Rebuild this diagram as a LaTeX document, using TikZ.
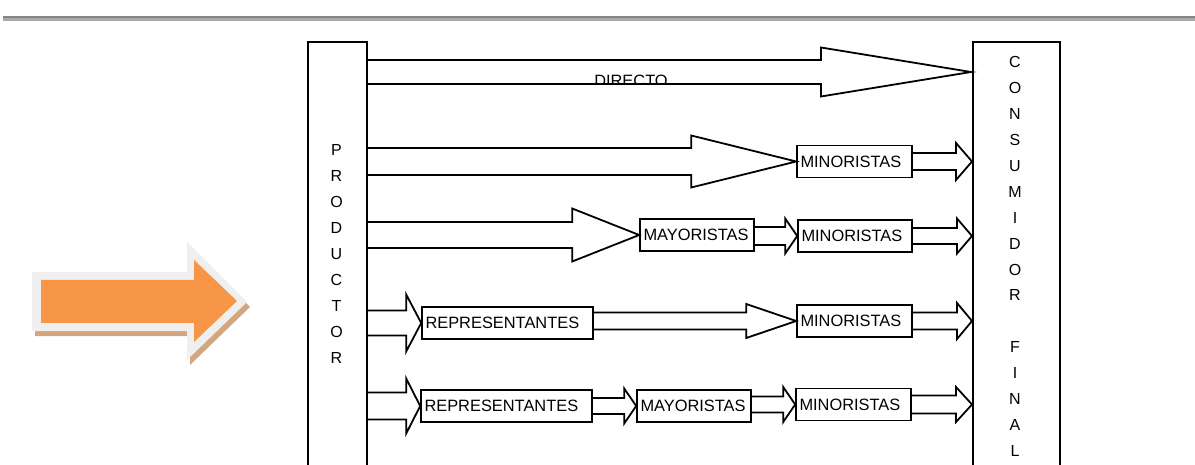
\documentclass[tikz,border=0pt]{standalone}
\usepackage{fontspec}
\setmainfont{Liberation Sans}
\usetikzlibrary{calc}
\definecolor{bardark}{HTML}{868686}
\definecolor{barlight}{HTML}{ABA8A8}
\definecolor{orangefill}{HTML}{F79646}
\definecolor{glowgray}{HTML}{EFEFEF}
\definecolor{shadowtan}{HTML}{D4A680}
\tikzset{
  blk/.style={draw=black, line width=1.8pt, line join=miter},
  frame/.style={draw=black, line width=1.8pt, inner sep=0pt},
  lbl/.style={draw=black, line width=1.6pt, minimum height=32pt, inner ysep=0pt,
    inner xsep=3.5pt, text width=#1, align=left, font=\fontsize{16.4}{19}\selectfont},
  vtxt/.style={inner sep=0pt, align=center, anchor=north},
}
\newcommand\barrow[5]{% source, tip, shaft half, head half, head length
  \draw[blk] let \p1=(#1), \p2=(#2) in
    (\x1,\y2+#3) -- (\x2-#5,\y2+#3) -- (\x2-#5,\y2+#4) -- (\p2)
    -- (\x2-#5,\y2-#4) -- (\x2-#5,\y2-#3) -- (\x1,\y2-#3);}
\begin{document}
\begin{tikzpicture}[x=1pt,y=-1pt]
\useasboundingbox (0,0) rectangle (1195,465);
% top bar
\fill[bardark] (3,16) rectangle (1195,18.2);
\fill[barlight] (3,18.2) rectangle (1195,20.6);
% orange arrow
\fill[shadowtan] (35,277) -- (190,277) -- (190,247) -- (250,307) -- (190,365) -- (190,336) -- (35,336) -- cycle;
\fill[glowgray] (32,272) -- (187,272) -- (187,242) -- (247,302) -- (187,360) -- (187,331) -- (32,331) -- cycle;
\fill[orangefill] (41,280) -- (194,280) -- (194,260) -- (237,301) -- (194,342) -- (194,323) -- (41,323) -- cycle;
% producer and consumer
\node[frame, minimum width=59pt, minimum height=460pt, anchor=north west] (prod) at (307,41) {};
\node[frame, minimum width=87pt, minimum height=460pt, anchor=north west] (cons) at (972,41) {};
\node[vtxt, font=\fontsize{16}{26}\selectfont] (prodtxt) at (336.5,144.5) {P\\R\\O\\D\\U\\C\\T\\O\\R};
\node[vtxt, font=\fontsize{16}{25.9}\selectfont] (constxt) at (1015,56.5) {C\\O\\N\\S\\U\\M\\I\\D\\O\\R\\[25.9pt]F\\I\\N\\A\\L};
% boxes
\node[lbl=108pt] (min2) at (854.5,161.5) {MINORISTAS};
\node[lbl=107pt] (may3) at (697,235) {MAYORISTAS};
\node[lbl=107pt] (min3) at (855,236) {MINORISTAS};
\node[lbl=164pt] (rep4) at (507.5,323) {REPRESENTANTES};
\node[lbl=108pt] (min4) at (854.5,321) {MINORISTAS};
\node[lbl=164pt] (rep5) at (506.5,406) {REPRESENTANTES};
\node[lbl=107pt] (may5) at (694,406) {MAYORISTAS};
\node[lbl=108pt] (min5) at (853.5,404.5) {MINORISTAS};
% direct channel
\coordinate (dtip) at (971,72);
\begin{scope}
  \clip (366,55) rectangle (972,83);
  \node[anchor=base, inner sep=0pt, font=\fontsize{16.4}{19}\selectfont] (directo) at (631,86.5) {DIRECTO};
\end{scope}
\barrow{prod.east}{dtip}{12pt}{24.5pt}{150pt}
% row 2
\barrow{prod.east}{min2.west}{13.5pt}{26pt}{105pt}
\barrow{min2.east}{cons.west |- min2}{8.5pt}{18.5pt}{16pt}
% row 3
\barrow{prod.east}{may3.west}{13pt}{26.5pt}{67pt}
\barrow{may3.east}{min3.west}{9pt}{17.5pt}{12pt}
\barrow{min3.east}{cons.west |- min3}{8pt}{17.5pt}{15pt}
% row 4
\barrow{prod.east}{rep4.west}{12.5pt}{28.5pt}{15pt}
\barrow{rep4.east}{min4.west}{8.5pt}{17pt}{50pt}
\barrow{min4.east}{cons.west |- min4}{8.5pt}{18pt}{15pt}
% row 5
\barrow{prod.east}{rep5.west}{13.5pt}{27.5pt}{14pt}
\barrow{rep5.east}{may5.west}{8pt}{17.5pt}{12pt}
\barrow{may5.east}{min5.west}{8pt}{17.5pt}{12pt}
\barrow{min5.east}{cons.west |- min5}{9pt}{17.5pt}{16pt}
\end{tikzpicture}
\end{document}
